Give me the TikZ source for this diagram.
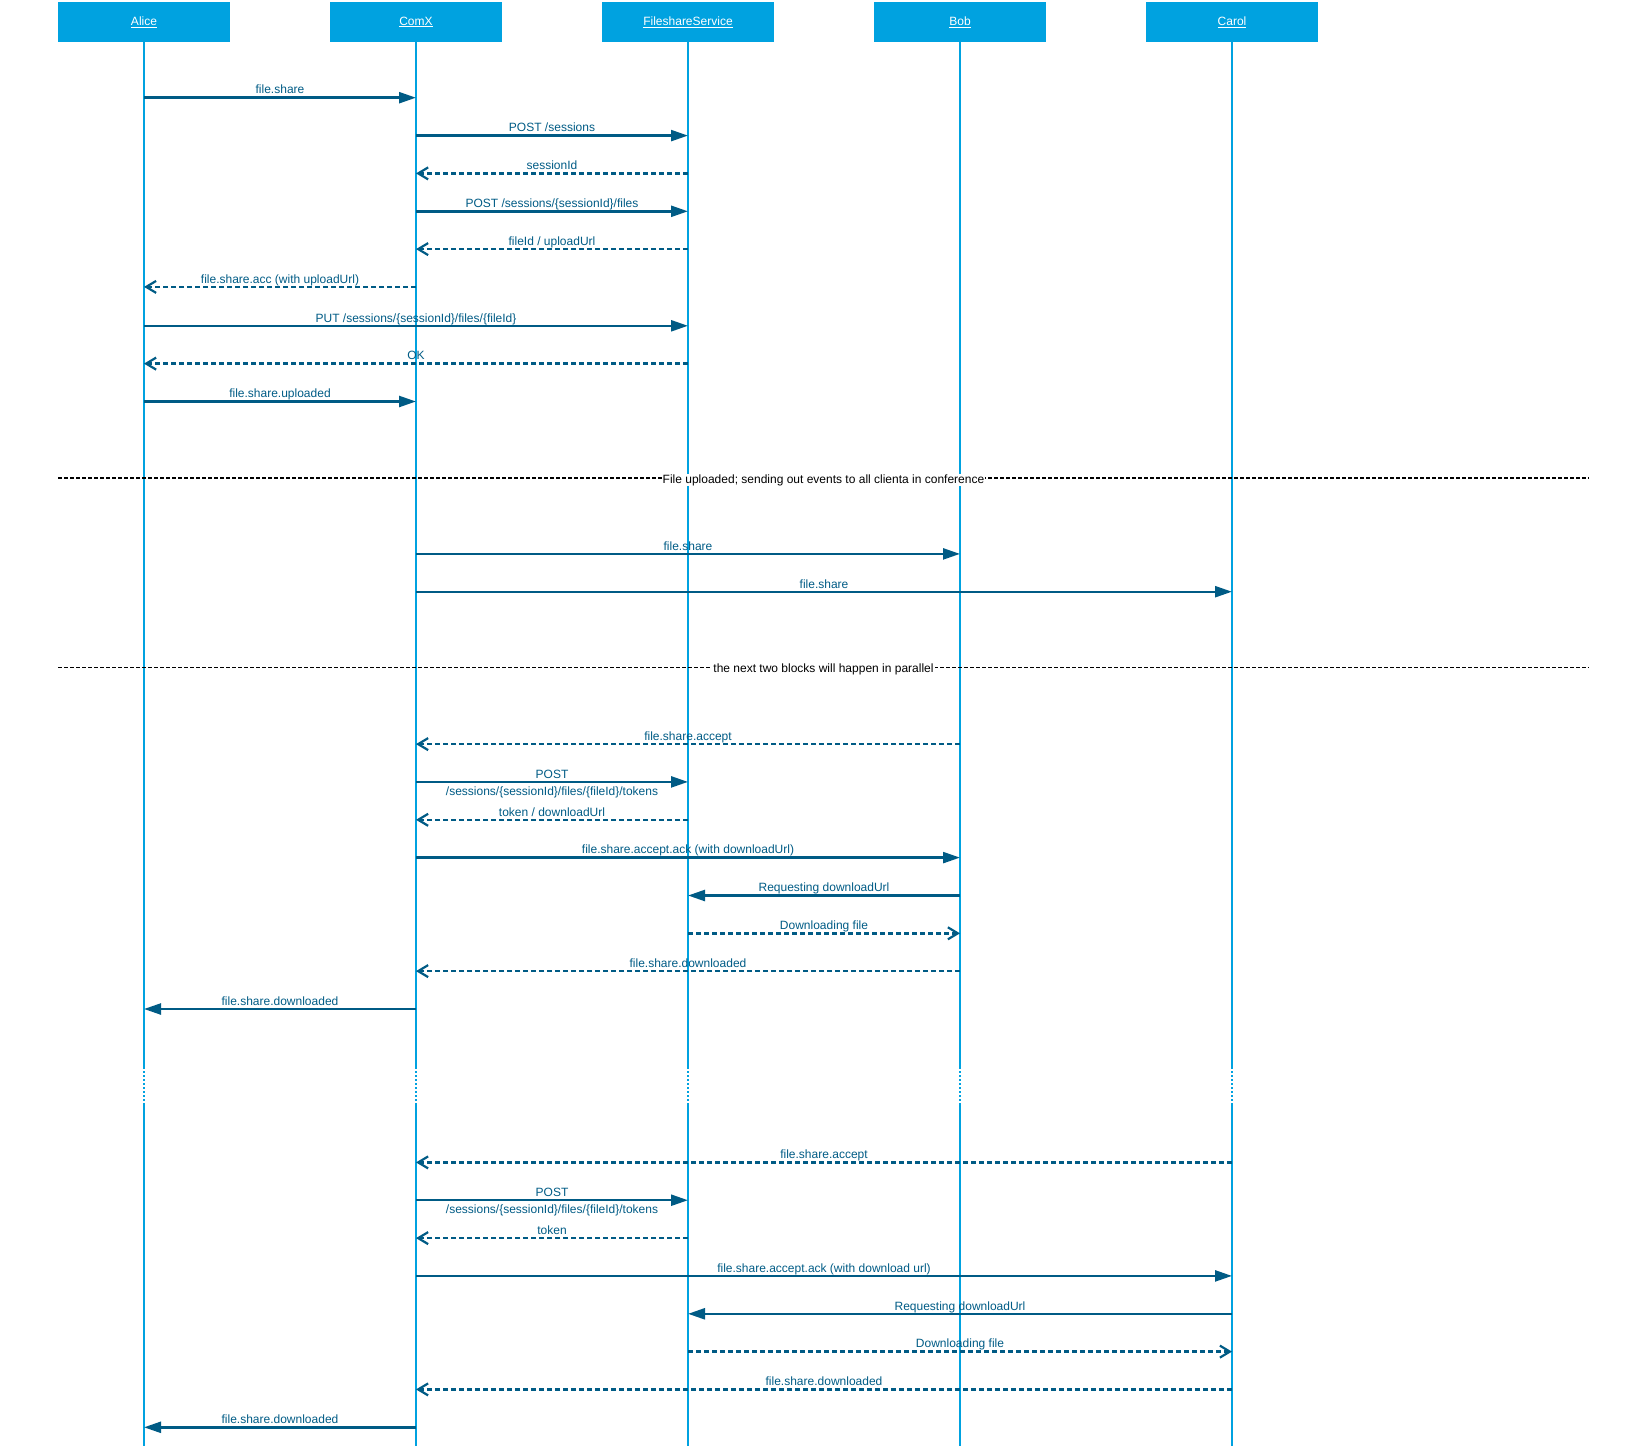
\documentclass[tikz,border=0pt]{standalone}
\usepackage{fontspec}
\setmainfont{Liberation Sans}
\usetikzlibrary{arrows.meta}
\definecolor{lifeblue}{RGB}{0,162,224}
\definecolor{msgblue}{RGB}{0,91,133}
\newcommand{\lblfont}{\fontsize{12}{14}\selectfont}

\begin{document}
\begin{tikzpicture}[x=1pt,y=-1pt,
    actor/.style={fill=lifeblue,text=white,minimum width=172pt,minimum height=40pt,inner sep=0pt,font=\lblfont},
    life/.style={lifeblue,line width=1.8pt},
    call/.style={msgblue,line width=2.4pt,-{Triangle[length=17pt,width=11pt]}},
    reply/.style={msgblue,line width=2.4pt,dash pattern=on 5pt off 3pt,-{Straight Barb[length=10pt,width=12pt,line width=2.2pt]}},
    lbl/.style={midway,above,inner sep=0pt,text height=9pt,text depth=2.5pt,text=msgblue,font=\lblfont},
    twolbl/.style={midway,align=center,inner sep=0pt,yshift=-2pt,text=msgblue,font=\fontsize{12}{17}\selectfont},
    sepline/.style={black,line width=1.8pt,dash pattern=on 4pt off 2pt},
    seplbl/.style={fill=white,inner xsep=1pt,inner ysep=0.5pt,yshift=-2pt,text height=9pt,text depth=2.5pt,font=\lblfont}]
  \useasboundingbox (0,0) rectangle (1648,1450);

  % participants
  \node[actor] (alice) at (144,22) {\underline{Alice}};
  \node[actor] (comx)  at (416,22) {\underline{ComX}};
  \node[actor] (fs)    at (688,22) {\underline{FileshareService}};
  \node[actor] (bob)   at (960,22) {\underline{Bob}};
  \node[actor] (carol) at (1232,22) {\underline{Carol}};

  % lifelines with the break
  \foreach \p in {alice,comx,fs,bob,carol} {
    \draw[life] (\p.south) -- (\p |- 0,1069);
    \draw[life,dash pattern=on 2pt off 2pt] (\p |- 0,1071) -- (\p |- 0,1102);
    \draw[life] (\p |- 0,1103) -- (\p |- 0,1446);
  }

  % upload
  \draw[call]  (alice |- 0,97.7)  -- (comx |- 0,97.7)   node[lbl] {file.share};
  \draw[call]  (comx |- 0,135.6)  -- (fs |- 0,135.6)    node[lbl] {POST /sessions};
  \draw[reply] (fs |- 0,173.4)    -- (comx |- 0,173.4)  node[lbl] {sessionId};
  \draw[call]  (comx |- 0,211.3)  -- (fs |- 0,211.3)    node[lbl] {POST /sessions/\{sessionId\}/files};
  \draw[reply] (fs |- 0,249.1)    -- (comx |- 0,249.1)  node[lbl] {fileId / uploadUrl};
  \draw[reply] (comx |- 0,286.9)  -- (alice |- 0,286.9) node[lbl] {file.share.acc (with uploadUrl)};
  \draw[call]  (alice |- 0,325.8) -- (fs |- 0,325.8)    node[lbl] {PUT /sessions/\{sessionId\}/files/\{fileId\}};
  \draw[reply] (fs |- 0,363.6)    -- (alice |- 0,363.6) node[lbl] {OK};
  \draw[call]  (alice |- 0,401.5) -- (comx |- 0,401.5)  node[lbl] {file.share.uploaded};

  % first separator
  \coordinate (sep1l) at (58,478.2);
  \coordinate (sep1r) at (1589,478.2);
  \draw[sepline] (sep1l) -- (sep1r)
    node[midway,seplbl] {File uploaded; sending out events to all clienta in conference};

  \draw[call]  (comx |- 0,553.9)  -- (bob |- 0,553.9)   node[lbl] {file.share};
  \draw[call]  (comx |- 0,591.7)  -- (carol |- 0,591.7) node[lbl] {file.share};

  % second separator
  \coordinate (sep2l) at (58,667.4);
  \coordinate (sep2r) at (1589,667.4);
  \draw[sepline] (sep2l) -- (sep2r)
    node[midway,seplbl] {the next two blocks will happen in parallel};

  % Bob block
  \draw[reply] (bob |- 0,744.1)   -- (comx |- 0,744.1)  node[lbl] {file.share.accept};
  \draw[call]  (comx |- 0,781.9)  -- (fs |- 0,781.9)
    node[twolbl] {POST\\/sessions/\{sessionId\}/files/\{fileId\}/tokens};
  \draw[reply] (fs |- 0,819.8)    -- (comx |- 0,819.8)  node[lbl] {token / downloadUrl};
  \draw[call]  (comx |- 0,857.6)  -- (bob |- 0,857.6)   node[lbl] {file.share.accept.ack (with downloadUrl)};
  \draw[call]  (bob |- 0,895.5)   -- (fs |- 0,895.5)    node[lbl] {Requesting downloadUrl};
  \draw[reply] (fs |- 0,933.3)    -- (bob |- 0,933.3)   node[lbl] {Downloading file};
  \draw[reply] (bob |- 0,971.1)   -- (comx |- 0,971.1)  node[lbl] {file.share.downloaded};
  \draw[call]  (comx |- 0,1009)   -- (alice |- 0,1009)  node[lbl] {file.share.downloaded};

  % Carol block
  \draw[reply] (carol |- 0,1162.4) -- (comx |- 0,1162.4)  node[lbl] {file.share.accept};
  \draw[call]  (comx |- 0,1200.2)  -- (fs |- 0,1200.2)
    node[twolbl] {POST\\/sessions/\{sessionId\}/files/\{fileId\}/tokens};
  \draw[reply] (fs |- 0,1238.1)    -- (comx |- 0,1238.1)  node[lbl] {token};
  \draw[call]  (comx |- 0,1275.9)  -- (carol |- 0,1275.9) node[lbl] {file.share.accept.ack (with download url)};
  \draw[call]  (carol |- 0,1313.8) -- (fs |- 0,1313.8)    node[lbl] {Requesting downloadUrl};
  \draw[reply] (fs |- 0,1351.6)    -- (carol |- 0,1351.6) node[lbl] {Downloading file};
  \draw[reply] (carol |- 0,1389.4) -- (comx |- 0,1389.4)  node[lbl] {file.share.downloaded};
  \draw[call]  (comx |- 0,1427.3)  -- (alice |- 0,1427.3) node[lbl] {file.share.downloaded};
\end{tikzpicture}
\end{document}
